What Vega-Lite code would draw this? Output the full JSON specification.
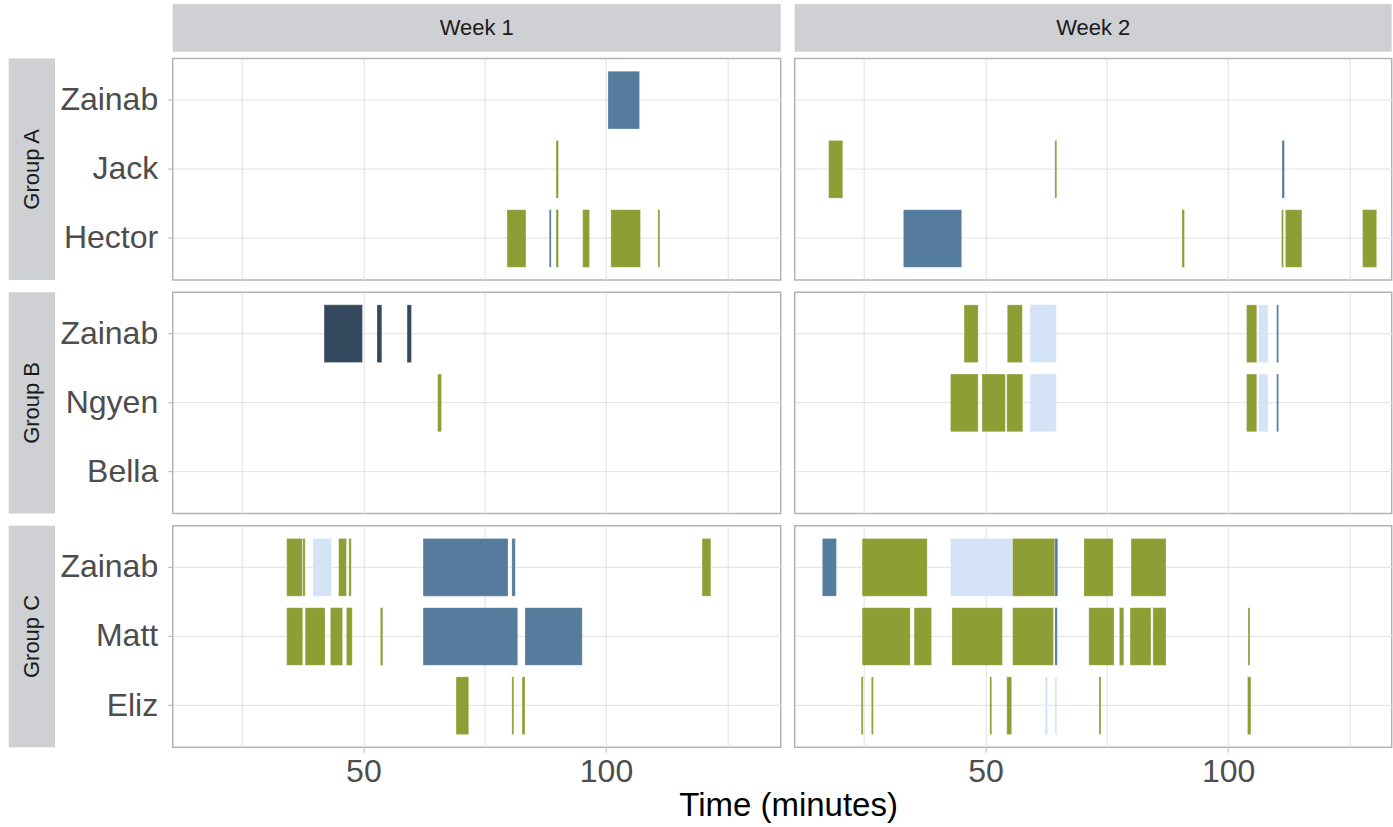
{
  "$schema": "https://vega.github.io/schema/vega-lite/v6.json",
  "background": "white",
  "padding": {"left": 8.7, "top": 4, "right": 0, "bottom": 3},
  "title": {"text": "Time (minutes)", "orient": "bottom", "anchor": "middle", "dx": 88, "fontSize": 33, "fontWeight": "normal", "color": "black", "font": "Liberation Sans", "offset": 2},
  "config": {
    "font": "Liberation Sans",
    "axis": {"labelFont": "Liberation Sans", "labelColor": "#4D4D4D", "tickColor": "#B3B3B3", "gridColor": "#E0E0E0", "gridWidth": 1, "domain": false, "labelFontSize": 32},
    "view": {"stroke": "#B3B3B3", "strokeWidth": 1.5}
  },
  "datasets": {
    "bars": [
      {"Group": "Group A", "Week": "Week 1", "Name": "Zainab", "Type": "B", "start": 100.4, "end": 106.9},
      {"Group": "Group A", "Week": "Week 1", "Name": "Jack", "Type": "A", "start": 89.7, "end": 90.2},
      {"Group": "Group A", "Week": "Week 1", "Name": "Hector", "Type": "A", "start": 79.6, "end": 83.5},
      {"Group": "Group A", "Week": "Week 1", "Name": "Hector", "Type": "B", "start": 88.3, "end": 88.7},
      {"Group": "Group A", "Week": "Week 1", "Name": "Hector", "Type": "A", "start": 89.7, "end": 90.2},
      {"Group": "Group A", "Week": "Week 1", "Name": "Hector", "Type": "A", "start": 95.2, "end": 96.6},
      {"Group": "Group A", "Week": "Week 1", "Name": "Hector", "Type": "A", "start": 101.0, "end": 107.1},
      {"Group": "Group A", "Week": "Week 1", "Name": "Hector", "Type": "A", "start": 110.7, "end": 111.1},
      {"Group": "Group A", "Week": "Week 2", "Name": "Jack", "Type": "A", "start": 17.7, "end": 20.6},
      {"Group": "Group A", "Week": "Week 2", "Name": "Jack", "Type": "A", "start": 64.3, "end": 64.7},
      {"Group": "Group A", "Week": "Week 2", "Name": "Jack", "Type": "B", "start": 111.1, "end": 111.6},
      {"Group": "Group A", "Week": "Week 2", "Name": "Hector", "Type": "B", "start": 33.1, "end": 45.1},
      {"Group": "Group A", "Week": "Week 2", "Name": "Hector", "Type": "A", "start": 90.5, "end": 91.0},
      {"Group": "Group A", "Week": "Week 2", "Name": "Hector", "Type": "A", "start": 111.0, "end": 111.4},
      {"Group": "Group A", "Week": "Week 2", "Name": "Hector", "Type": "A", "start": 111.8, "end": 115.2},
      {"Group": "Group A", "Week": "Week 2", "Name": "Hector", "Type": "A", "start": 127.7, "end": 130.6},
      {"Group": "Group B", "Week": "Week 1", "Name": "Zainab", "Type": "C", "start": 41.9, "end": 49.8},
      {"Group": "Group B", "Week": "Week 1", "Name": "Zainab", "Type": "C", "start": 52.8, "end": 53.8},
      {"Group": "Group B", "Week": "Week 1", "Name": "Zainab", "Type": "C", "start": 59.0, "end": 59.9},
      {"Group": "Group B", "Week": "Week 1", "Name": "Ngyen", "Type": "A", "start": 65.3, "end": 66.1},
      {"Group": "Group B", "Week": "Week 2", "Name": "Zainab", "Type": "A", "start": 45.6, "end": 48.5},
      {"Group": "Group B", "Week": "Week 2", "Name": "Zainab", "Type": "A", "start": 54.5, "end": 57.6},
      {"Group": "Group B", "Week": "Week 2", "Name": "Zainab", "Type": "D", "start": 59.2, "end": 64.6},
      {"Group": "Group B", "Week": "Week 2", "Name": "Zainab", "Type": "A", "start": 103.8, "end": 105.9},
      {"Group": "Group B", "Week": "Week 2", "Name": "Zainab", "Type": "D", "start": 106.3, "end": 108.2},
      {"Group": "Group B", "Week": "Week 2", "Name": "Zainab", "Type": "B", "start": 110.0, "end": 110.4},
      {"Group": "Group B", "Week": "Week 2", "Name": "Ngyen", "Type": "A", "start": 42.8, "end": 48.5},
      {"Group": "Group B", "Week": "Week 2", "Name": "Ngyen", "Type": "A", "start": 49.3, "end": 54.1},
      {"Group": "Group B", "Week": "Week 2", "Name": "Ngyen", "Type": "A", "start": 54.4, "end": 57.7},
      {"Group": "Group B", "Week": "Week 2", "Name": "Ngyen", "Type": "D", "start": 59.2, "end": 64.6},
      {"Group": "Group B", "Week": "Week 2", "Name": "Ngyen", "Type": "A", "start": 103.8, "end": 105.9},
      {"Group": "Group B", "Week": "Week 2", "Name": "Ngyen", "Type": "D", "start": 106.3, "end": 108.2},
      {"Group": "Group B", "Week": "Week 2", "Name": "Ngyen", "Type": "B", "start": 110.0, "end": 110.4},
      {"Group": "Group C", "Week": "Week 1", "Name": "Zainab", "Type": "A", "start": 34.2, "end": 37.4},
      {"Group": "Group C", "Week": "Week 1", "Name": "Zainab", "Type": "A", "start": 37.5, "end": 38.0},
      {"Group": "Group C", "Week": "Week 1", "Name": "Zainab", "Type": "D", "start": 39.6, "end": 43.4},
      {"Group": "Group C", "Week": "Week 1", "Name": "Zainab", "Type": "A", "start": 44.9, "end": 46.5},
      {"Group": "Group C", "Week": "Week 1", "Name": "Zainab", "Type": "A", "start": 47.0, "end": 47.5},
      {"Group": "Group C", "Week": "Week 1", "Name": "Zainab", "Type": "B", "start": 62.3, "end": 79.8},
      {"Group": "Group C", "Week": "Week 1", "Name": "Zainab", "Type": "B", "start": 80.6, "end": 81.3},
      {"Group": "Group C", "Week": "Week 1", "Name": "Zainab", "Type": "A", "start": 119.8, "end": 121.6},
      {"Group": "Group C", "Week": "Week 1", "Name": "Matt", "Type": "A", "start": 34.2, "end": 37.5},
      {"Group": "Group C", "Week": "Week 1", "Name": "Matt", "Type": "A", "start": 38.0, "end": 42.1},
      {"Group": "Group C", "Week": "Week 1", "Name": "Matt", "Type": "A", "start": 43.2, "end": 45.7},
      {"Group": "Group C", "Week": "Week 1", "Name": "Matt", "Type": "A", "start": 46.5, "end": 47.7},
      {"Group": "Group C", "Week": "Week 1", "Name": "Matt", "Type": "A", "start": 53.5, "end": 54.0},
      {"Group": "Group C", "Week": "Week 1", "Name": "Matt", "Type": "B", "start": 62.3, "end": 81.8},
      {"Group": "Group C", "Week": "Week 1", "Name": "Matt", "Type": "B", "start": 83.3, "end": 95.1},
      {"Group": "Group C", "Week": "Week 1", "Name": "Eliz", "Type": "A", "start": 69.1, "end": 71.7},
      {"Group": "Group C", "Week": "Week 1", "Name": "Eliz", "Type": "A", "start": 80.6, "end": 81.0},
      {"Group": "Group C", "Week": "Week 1", "Name": "Eliz", "Type": "A", "start": 82.7, "end": 83.3},
      {"Group": "Group C", "Week": "Week 2", "Name": "Zainab", "Type": "B", "start": 16.4, "end": 19.3},
      {"Group": "Group C", "Week": "Week 2", "Name": "Zainab", "Type": "A", "start": 24.6, "end": 38.0},
      {"Group": "Group C", "Week": "Week 2", "Name": "Zainab", "Type": "D", "start": 42.8, "end": 55.6},
      {"Group": "Group C", "Week": "Week 2", "Name": "Zainab", "Type": "A", "start": 55.6, "end": 64.3},
      {"Group": "Group C", "Week": "Week 2", "Name": "Zainab", "Type": "B", "start": 64.3, "end": 64.9},
      {"Group": "Group C", "Week": "Week 2", "Name": "Zainab", "Type": "A", "start": 70.3, "end": 76.3},
      {"Group": "Group C", "Week": "Week 2", "Name": "Zainab", "Type": "A", "start": 80.0, "end": 87.2},
      {"Group": "Group C", "Week": "Week 2", "Name": "Matt", "Type": "A", "start": 24.6, "end": 34.5},
      {"Group": "Group C", "Week": "Week 2", "Name": "Matt", "Type": "A", "start": 35.3, "end": 38.9},
      {"Group": "Group C", "Week": "Week 2", "Name": "Matt", "Type": "A", "start": 43.1, "end": 53.5},
      {"Group": "Group C", "Week": "Week 2", "Name": "Matt", "Type": "A", "start": 55.6, "end": 64.0},
      {"Group": "Group C", "Week": "Week 2", "Name": "Matt", "Type": "B", "start": 64.3, "end": 64.8},
      {"Group": "Group C", "Week": "Week 2", "Name": "Matt", "Type": "A", "start": 71.3, "end": 76.5},
      {"Group": "Group C", "Week": "Week 2", "Name": "Matt", "Type": "A", "start": 77.6, "end": 78.5},
      {"Group": "Group C", "Week": "Week 2", "Name": "Matt", "Type": "A", "start": 79.8, "end": 84.1},
      {"Group": "Group C", "Week": "Week 2", "Name": "Matt", "Type": "A", "start": 84.5, "end": 87.2},
      {"Group": "Group C", "Week": "Week 2", "Name": "Matt", "Type": "A", "start": 104.1, "end": 104.5},
      {"Group": "Group C", "Week": "Week 2", "Name": "Eliz", "Type": "A", "start": 24.4, "end": 24.8},
      {"Group": "Group C", "Week": "Week 2", "Name": "Eliz", "Type": "A", "start": 26.5, "end": 26.9},
      {"Group": "Group C", "Week": "Week 2", "Name": "Eliz", "Type": "A", "start": 50.9, "end": 51.3},
      {"Group": "Group C", "Week": "Week 2", "Name": "Eliz", "Type": "A", "start": 54.4, "end": 55.4},
      {"Group": "Group C", "Week": "Week 2", "Name": "Eliz", "Type": "D", "start": 62.3, "end": 62.8},
      {"Group": "Group C", "Week": "Week 2", "Name": "Eliz", "Type": "D", "start": 64.3, "end": 64.7},
      {"Group": "Group C", "Week": "Week 2", "Name": "Eliz", "Type": "A", "start": 73.4, "end": 73.8},
      {"Group": "Group C", "Week": "Week 2", "Name": "Eliz", "Type": "A", "start": 104.0, "end": 104.7}
    ]
  },
  "columns": 3,
  "align": "each",
  "spacing": {"row": 5.6, "column": 3},
  "resolve": {"scale": {"x": "independent", "y": "independent"}},
  "concat": [
    {"width": 46.3, "height": 47.7, "view": {"stroke": null}, "data": {"values": [{"label": ""}]}, "mark": {"type": "text"}, "encoding": {"text": {"field": "label"}}},
    {"width": 608, "height": 47.7, "view": {"fill": "#CFD0D3", "stroke": null}, "data": {"values": [{"label": "Week 1"}]}, "mark": {"type": "text", "fontSize": 22, "color": "#1A1A1A"}, "encoding": {"text": {"field": "label"}}},
    {"width": 597, "height": 47.7, "view": {"fill": "#CFD0D3", "stroke": null}, "data": {"values": [{"label": "Week 2"}]}, "mark": {"type": "text", "fontSize": 22, "color": "#1A1A1A"}, "encoding": {"text": {"field": "label"}}},

    {"width": 46.3, "height": 221.4, "view": {"fill": "#CFD0D3", "stroke": null}, "data": {"values": [{"label": "Group A"}]}, "mark": {"type": "text", "fontSize": 22, "angle": 270, "color": "#1A1A1A"}, "encoding": {"text": {"field": "label"}}},
    {"width": 608, "height": 221.4, "data": {"name": "bars"}, "transform": [{"filter": "datum.Group == 'Group A' && datum.Week == 'Week 1'"}],
     "mark": {"type": "bar", "stroke": "white", "strokeWidth": 0.5, "strokeOpacity": 0.5},
     "encoding": {
       "x": {"field": "start", "type": "quantitative", "scale": {"domain": [10.7, 136.0], "nice": false, "zero": false}, "axis": {"title": null, "labels": false, "values": [25, 50, 75, 100, 125], "tickSize": 3.4, "tickColor": "transparent", "grid": true}},
       "x2": {"field": "end"},
       "y": {"field": "Name", "type": "nominal", "scale": {"domain": ["Zainab", "Jack", "Hector"], "paddingInner": 0.166, "paddingOuter": 0.183}, "axis": {"title": null, "tickSize": 5, "labelPadding": 10, "bandPosition": 0.5, "grid": true}},
       "color": {"field": "Type", "type": "nominal", "scale": {"domain": ["A", "B", "C", "D"], "range": ["#8C9E34", "#557B9D", "#34495E", "#D4E3F5"]}, "legend": null}
     }},
    {"width": 597, "height": 221.4, "data": {"name": "bars"}, "transform": [{"filter": "datum.Group == 'Group A' && datum.Week == 'Week 2'"}],
     "mark": {"type": "bar", "stroke": "white", "strokeWidth": 0.5, "strokeOpacity": 0.5},
     "encoding": {
       "x": {"field": "start", "type": "quantitative", "scale": {"domain": [10.7, 133.7], "nice": false, "zero": false}, "axis": {"title": null, "labels": false, "values": [25, 50, 75, 100, 125], "tickSize": 3.4, "tickColor": "transparent", "grid": true}},
       "x2": {"field": "end"},
       "y": {"field": "Name", "type": "nominal", "scale": {"domain": ["Zainab", "Jack", "Hector"], "paddingInner": 0.166, "paddingOuter": 0.183}, "axis": {"title": null, "labels": false, "tickSize": 8.5, "tickColor": "transparent", "bandPosition": 0.5, "grid": true}},
       "color": {"field": "Type", "type": "nominal", "scale": {"domain": ["A", "B", "C", "D"], "range": ["#8C9E34", "#557B9D", "#34495E", "#D4E3F5"]}, "legend": null}
     }},

    {"width": 46.3, "height": 221.4, "view": {"fill": "#CFD0D3", "stroke": null}, "data": {"values": [{"label": "Group B"}]}, "mark": {"type": "text", "fontSize": 22, "angle": 270, "color": "#1A1A1A"}, "encoding": {"text": {"field": "label"}}},
    {"width": 608, "height": 221.4, "data": {"name": "bars"}, "transform": [{"filter": "datum.Group == 'Group B' && datum.Week == 'Week 1'"}],
     "mark": {"type": "bar", "stroke": "white", "strokeWidth": 0.5, "strokeOpacity": 0.5},
     "encoding": {
       "x": {"field": "start", "type": "quantitative", "scale": {"domain": [10.7, 136.0], "nice": false, "zero": false}, "axis": {"title": null, "labels": false, "values": [25, 50, 75, 100, 125], "tickSize": 3.4, "tickColor": "transparent", "grid": true}},
       "x2": {"field": "end"},
       "y": {"field": "Name", "type": "nominal", "scale": {"domain": ["Zainab", "Ngyen", "Bella"], "paddingInner": 0.166, "paddingOuter": 0.183}, "axis": {"title": null, "tickSize": 5, "labelPadding": 10, "bandPosition": 0.5, "grid": true}},
       "color": {"field": "Type", "type": "nominal", "scale": {"domain": ["A", "B", "C", "D"], "range": ["#8C9E34", "#557B9D", "#34495E", "#D4E3F5"]}, "legend": null}
     }},
    {"width": 597, "height": 221.4, "data": {"name": "bars"}, "transform": [{"filter": "datum.Group == 'Group B' && datum.Week == 'Week 2'"}],
     "mark": {"type": "bar", "stroke": "white", "strokeWidth": 0.5, "strokeOpacity": 0.5},
     "encoding": {
       "x": {"field": "start", "type": "quantitative", "scale": {"domain": [10.7, 133.7], "nice": false, "zero": false}, "axis": {"title": null, "labels": false, "values": [25, 50, 75, 100, 125], "tickSize": 3.4, "tickColor": "transparent", "grid": true}},
       "x2": {"field": "end"},
       "y": {"field": "Name", "type": "nominal", "scale": {"domain": ["Zainab", "Ngyen", "Bella"], "paddingInner": 0.166, "paddingOuter": 0.183}, "axis": {"title": null, "labels": false, "tickSize": 8.5, "tickColor": "transparent", "bandPosition": 0.5, "grid": true}},
       "color": {"field": "Type", "type": "nominal", "scale": {"domain": ["A", "B", "C", "D"], "range": ["#8C9E34", "#557B9D", "#34495E", "#D4E3F5"]}, "legend": null}
     }},

    {"width": 46.3, "height": 221.4, "view": {"fill": "#CFD0D3", "stroke": null}, "data": {"values": [{"label": "Group C"}]}, "mark": {"type": "text", "fontSize": 22, "angle": 270, "color": "#1A1A1A"}, "encoding": {"text": {"field": "label"}}},
    {"width": 608, "height": 221.4, "data": {"name": "bars"}, "transform": [{"filter": "datum.Group == 'Group C' && datum.Week == 'Week 1'"}],
     "mark": {"type": "bar", "stroke": "white", "strokeWidth": 0.5, "strokeOpacity": 0.5},
     "encoding": {
       "x": {"field": "start", "type": "quantitative", "scale": {"domain": [10.7, 136.0], "nice": false, "zero": false}, "axis": {"title": null, "values": [25, 50, 75, 100, 125], "labelExpr": "datum.value == 50 || datum.value == 100 ? datum.label : ''", "tickSize": 5, "tickColor": {"condition": {"test": "datum.value == 50 || datum.value == 100", "value": "#B3B3B3"}, "value": "transparent"}, "labelPadding": 4, "grid": true}},
       "x2": {"field": "end"},
       "y": {"field": "Name", "type": "nominal", "scale": {"domain": ["Zainab", "Matt", "Eliz"], "paddingInner": 0.166, "paddingOuter": 0.183}, "axis": {"title": null, "tickSize": 5, "labelPadding": 10, "bandPosition": 0.5, "grid": true}},
       "color": {"field": "Type", "type": "nominal", "scale": {"domain": ["A", "B", "C", "D"], "range": ["#8C9E34", "#557B9D", "#34495E", "#D4E3F5"]}, "legend": null}
     }},
    {"width": 597, "height": 221.4, "data": {"name": "bars"}, "transform": [{"filter": "datum.Group == 'Group C' && datum.Week == 'Week 2'"}],
     "mark": {"type": "bar", "stroke": "white", "strokeWidth": 0.5, "strokeOpacity": 0.5},
     "encoding": {
       "x": {"field": "start", "type": "quantitative", "scale": {"domain": [10.7, 133.7], "nice": false, "zero": false}, "axis": {"title": null, "values": [25, 50, 75, 100, 125], "labelExpr": "datum.value == 50 || datum.value == 100 ? datum.label : ''", "tickSize": 5, "tickColor": {"condition": {"test": "datum.value == 50 || datum.value == 100", "value": "#B3B3B3"}, "value": "transparent"}, "labelPadding": 4, "grid": true}},
       "x2": {"field": "end"},
       "y": {"field": "Name", "type": "nominal", "scale": {"domain": ["Zainab", "Matt", "Eliz"], "paddingInner": 0.166, "paddingOuter": 0.183}, "axis": {"title": null, "labels": false, "tickSize": 8.5, "tickColor": "transparent", "bandPosition": 0.5, "grid": true}},
       "color": {"field": "Type", "type": "nominal", "scale": {"domain": ["A", "B", "C", "D"], "range": ["#8C9E34", "#557B9D", "#34495E", "#D4E3F5"]}, "legend": null}
     }}
  ]
}
